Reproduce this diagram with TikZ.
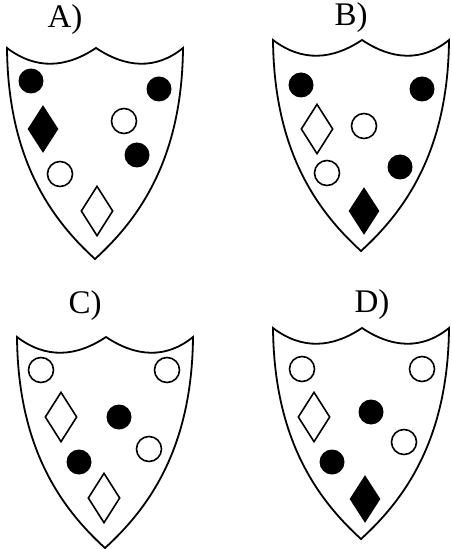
\documentclass[tikz,border=0pt]{standalone}
\usepackage{fontspec}
\setmainfont{Liberation Serif}
\usetikzlibrary{shapes.geometric}

% outline of one shield, top middle cusp at (0,0)
\newcommand{\shieldoutline}{(-89,0) .. controls (-60,22) and (-30,20) .. (0,0)
  .. controls (30,20) and (60,22) .. (87,0)
  .. controls (86,110) and (44,170) .. (-1,211)
  .. controls (-46,170) and (-88,110) .. (-89,0) -- cycle}

\begin{document}
\begin{tikzpicture}[x=0.5pt, y=-0.5pt,
    shieldline/.style={draw, line width=0.9pt, line join=miter},
    dot/.style={circle, fill=black, inner sep=0pt, minimum size=12.5pt},
    ring/.style={circle, draw, line width=0.8pt, inner sep=0pt, minimum size=12.5pt},
    gem/.style={diamond, fill=black, inner sep=0pt, minimum width=15.5pt, minimum height=24pt},
    hollowgem/.style={diamond, draw, line width=0.8pt, inner sep=0pt, minimum width=16pt, minimum height=25pt},
    lab/.style={font=\fontsize{16.5}{19}\selectfont}
  ]
    \useasboundingbox (0,0) rectangle (451,549);

    %% Shield A
    \node[lab] (la) at (65,20) {A)};
    \draw[shieldline, shift={(96,48)}] \shieldoutline;
    \node[dot] (a1) at (31,81) {};
    \node[dot] (a2) at (159,89) {};
    \node[gem] (a3) at (43,129) {};
    \node[ring] (a4) at (124,121) {};
    \node[dot] (a5) at (137,155) {};
    \node[ring] (a6) at (60,174) {};
    \node[hollowgem] (a7) at (97,211) {};

    %% Shield B
    \node[lab] (lb) at (351,18) {B)};
    \draw[shieldline, shift={(362,40)}] \shieldoutline;
    \node[dot] (b1) at (301,85) {};
    \node[dot] (b2) at (422,89) {};
    \node[hollowgem] (b3) at (317,129) {};
    \node[ring] (b4) at (364,126) {};
    \node[ring] (b5) at (327,173) {};
    \node[dot] (b6) at (400,167) {};
    \node[gem] (b7) at (364,211) {};

    %% Shield C
    \node[lab] (lc) at (85,306) {C)};
    \draw[shieldline, shift={(106,337)}] \shieldoutline;
    \node[ring] (c1) at (41,370) {};
    \node[ring] (c2) at (167,370) {};
    \node[hollowgem] (c3) at (61,417) {};
    \node[dot] (c4) at (119,417) {};
    \node[ring] (c5) at (149,449) {};
    \node[dot] (c6) at (79,462) {};
    \node[hollowgem] (c7) at (104,498) {};

    %% Shield D
    \node[lab] (ld) at (372,305) {D)};
    \draw[shieldline, shift={(362,328)}] \shieldoutline;
    \node[ring] (d1) at (302,369) {};
    \node[ring] (d2) at (422,369) {};
    \node[hollowgem] (d3) at (314,417) {};
    \node[dot] (d4) at (371,412) {};
    \node[ring] (d5) at (404,442) {};
    \node[dot] (d6) at (332,462) {};
    \node[gem] (d7) at (365,499) {};
\end{tikzpicture}
\end{document}
